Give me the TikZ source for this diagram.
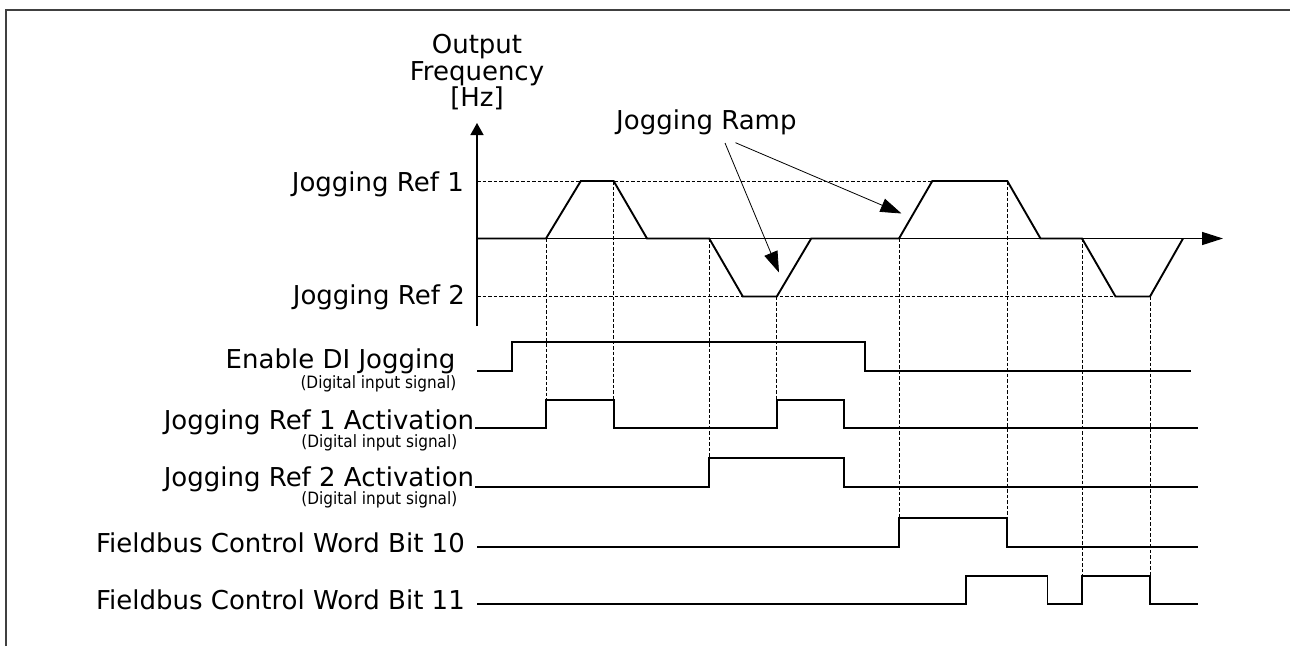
\documentclass[tikz,border=0pt]{standalone}
\usepackage{fontspec}
\usepackage{graphicx}
\setmainfont{DejaVu Sans}
\usetikzlibrary{arrows.meta}
\newcommand{\narrowtext}[1]{\scalebox{0.9}[1]{#1}}
\begin{document}
\begin{tikzpicture}[x=1pt,y=-1pt,
  wave/.style={line width=1.9pt, line join=miter},
  guide/.style={line width=0.8pt, dash pattern=on 3.5pt off 2pt},
  axisline/.style={line width=1.4pt},
  lbl/.style={font=\fontsize{26}{28}\selectfont, inner sep=0pt},
  sublbl/.style={font=\fontsize{17}{18}\selectfont, inner sep=0pt},
  pointer/.style={line width=0.8pt, -{Triangle[length=21pt,width=14pt]}},
  frame/.style={line width=1.3pt, draw=black!75}]
\useasboundingbox (0,0) rectangle (1290,646);
% frame
\draw[frame] (6,646) -- (6,10) -- (1290,10);
% axis label
\node[lbl, anchor=base] (out) at (477,53.5) {Output};
\node[lbl, anchor=base] (freq) at (477,80) {Frequency};
\node[lbl, anchor=base] (hz) at (477,106) {[Hz]};
% levels
\coordinate (yb) at (477,326);
\coordinate (yt) at (477,123);
\coordinate (x0) at (477,238.5);
\coordinate (xt) at (1223,238.5);
\node[lbl, anchor=base east] (r1) at (464,191.5) {Jogging Ref 1};
\node[lbl, anchor=base east] (r2) at (465,304) {Jogging Ref 2};
% reference dashed lines
\draw[guide] (477,181) -- (932,181);
\draw[guide] (477,296.5) -- (1115,296.5);
% vertical guides
\draw[guide] (546,238.5) -- (546,400);
\draw[guide] (613.6,181) -- (613.6,400);
\draw[guide] (709.2,238.5) -- (709.2,457.7);
\draw[guide] (776.8,296.5) -- (776.8,400);
\draw[guide] (899,238.5) -- (899,518.3);
\draw[guide] (1007.3,181) -- (1007.3,518.3);
\draw[guide] (1082,238.5) -- (1082,576);
\draw[guide] (1150,296.5) -- (1150,576);
% axes
\draw[axisline, -{Triangle[length=12pt,width=13pt]}] (yb) -- (yt);
\draw[axisline, -{Triangle[length=21pt,width=13pt]}] (x0) -- (xt);
% frequency waveform
\draw[wave] (477,238.5) -- (546,238.5) -- (580.8,181) -- (613.6,181) -- (647,238.5)
  -- (709.2,238.5) -- (742.8,296.5) -- (776.8,296.5) -- (811.2,238.5)
  -- (899,238.5) -- (932.3,181) -- (1007.3,181) -- (1040.5,238.5)
  -- (1082,238.5) -- (1115.5,296.5) -- (1150,296.5) -- (1183,238.5);
% jogging ramp annotation
\node[lbl, anchor=base west] (ramp) at (616,129.3) {Jogging Ramp};
\coordinate (ra) at (725,143);
\coordinate (rb) at (735.5,142.7);
\coordinate (ta) at (779,272.5);
\coordinate (tb) at (901.5,213.5);
\draw[pointer] (ra) -- (ta);
\draw[pointer] (rb) -- (tb);
% digital signals labels
\node[lbl, anchor=base east] (en) at (455.5,368) {Enable DI Jogging};
\node[sublbl, anchor=base east] (en2) at (456.6,388.5) {\narrowtext{(Digital input signal)}};
\node[lbl, anchor=base east] (a1) at (474.3,429) {Jogging Ref 1 Activation};
\node[sublbl, anchor=base east] (a1s) at (457.5,447.5) {\narrowtext{(Digital input signal)}};
\node[lbl, anchor=base east] (a2) at (474.3,486.5) {Jogging Ref 2 Activation};
\node[sublbl, anchor=base east] (a2s) at (457.5,504.5) {\narrowtext{(Digital input signal)}};
\node[lbl, anchor=base east] (b10) at (465,552.3) {Fieldbus Control Word Bit 10};
\node[lbl, anchor=base east] (b11) at (465,609.5) {Fieldbus Control Word Bit 11};
% digital signals
\draw[wave] (477,370.7) -| (512.2,341.7) -| (865.1,370.7) -- (1190.6,370.7);
\draw[wave] (475,428.3) -| (546,400) -| (613.6,428.3) -| (776.8,400) -| (844.4,428.3) -- (1197.6,428.3);
\draw[wave] (475,486.7) -| (709.2,457.7) -| (844.4,486.7) -- (1197.6,486.7);
\draw[wave] (477,547.3) -| (899,518.3) -| (1007.3,547.3) -- (1197.6,547.3);
\draw[wave] (477,604.3) -| (966.3,576) -| (1047.5,604.3) -| (1082,576) -| (1150,604.3) -- (1197.6,604.3);
\end{tikzpicture}
\end{document}
